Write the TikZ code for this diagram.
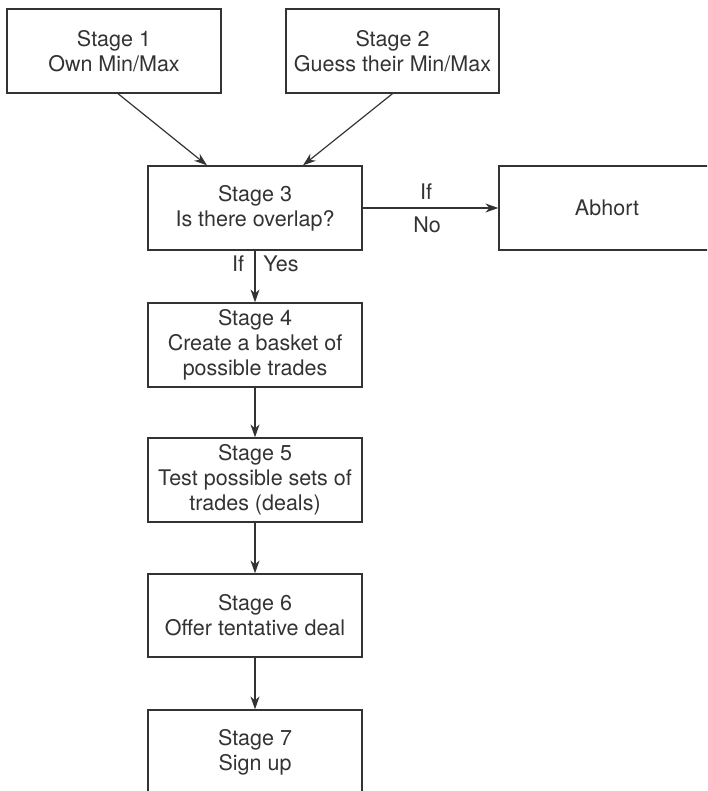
\documentclass[tikz,border=0pt]{standalone}
\usepackage{fontspec}
\setmainfont{TeX Gyre Heros}
\usetikzlibrary{arrows.meta}
\definecolor{ink}{HTML}{333333}
\tikzset{
  stagebox/.style={draw=ink, line width=1.3pt, rectangle, minimum width=214pt,
    minimum height=84pt, inner sep=0pt, align=center, text=ink,
    font=\fontsize{21.5}{25}\selectfont},
  flow/.style={draw=ink, line width=1.2pt, -{Stealth[length=13pt,width=9pt]}},
  lbl/.style={text=ink, inner sep=0pt, font=\fontsize{21.5}{25}\selectfont}
}
\begin{document}
\begin{tikzpicture}[x=1pt, y=-1pt]
  \useasboundingbox (0,0) rectangle (707,791);
  \clip (0,0) rectangle (707,791);

  % stage boxes
  \node[stagebox] (s1) at (114,51) {Stage 1\\Own Min/Max};
  \node[stagebox, minimum width=213pt] (s2) at (392.5,51) {Stage 2\\Guess their Min/Max};
  \node[stagebox] (s3) at (255,208) {Stage 3\\Is there overlap?};
  \node[stagebox, minimum width=216pt] (ab) at (607,208) {Abhort};
  \node[stagebox] (s4) at (255,345) {Stage 4\\Create a basket of\\possible trades};
  \node[stagebox] (s5) at (255,480) {Stage 5\\Test possible sets of\\trades (deals)};
  \node[stagebox, minimum height=83pt] (s6) at (255,615.5) {Stage 6\\Offer tentative deal};
  \node[stagebox] (s7) at (255,752) {Stage 7\\Sign up};

  % connectors
  \draw[flow] ([xshift=4pt]s1.south) -- ([xshift=-48pt]s3.north);
  \draw[flow] (s2.south) -- ([xshift=48pt]s3.north);
  \draw[flow] (s3.east) -- (ab.west);
  \draw[flow] (s3.south) -- (s4.north);
  \draw[flow] (s4.south) -- (s5.north);
  \draw[flow] (s5.south) -- (s6.north);
  \draw[flow] (s6.south) -- (s7.north);

  % branch labels
  \node[lbl] (ifno) at (426,192) {If};
  \node[lbl] (no) at (427,225) {No};
  \node[lbl] (ifyes) at (238,264) {If};
  \node[lbl] (yes) at (281,264) {Yes};
\end{tikzpicture}
\end{document}
